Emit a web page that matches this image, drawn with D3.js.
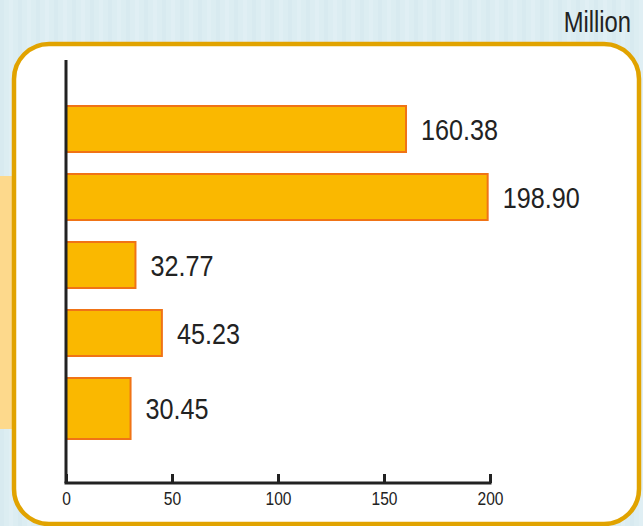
<!DOCTYPE html>
<html>
<head>
<meta charset="utf-8">
<script src="https://cdn.jsdelivr.net/npm/d3@7/dist/d3.min.js"></script>
<style>
  html, body { margin: 0; padding: 0; background: #dcedf2; }
  svg { display: block; }
  text { font-family: "Liberation Sans", Arial, sans-serif; fill: #222; }
</style>
</head>
<body>
<svg id="chart" width="643" height="526"></svg>
<script>
const categories = ["Item 1", "Item 2", "Item 3", "Item 4", "Item 5"];
const values = [160.38, 198.90, 32.77, 45.23, 30.45];
const valueLabels = ["160.38", "198.90", "32.77", "45.23", "30.45"];
const tickValues = [0, 50, 100, 150, 200];
const unitLabel = "Million";

const W = 643, H = 526;
const NARROW = 0.82;
const svg = d3.select("#chart");

// background
svg.append("rect").attr("x", 0).attr("y", 0).attr("width", W).attr("height", H).attr("fill", "#dcedf2");
const tex = svg.append("g").attr("opacity", 0.25);
d3.range(0, W, 9).forEach((x, i) => {
  tex.append("rect").attr("x", x).attr("y", 0).attr("width", 4).attr("height", H)
    .attr("fill", i % 2 ? "#eef7fa" : "#cfe4ec");
});
// left pale yellow strip
svg.append("rect").attr("x", 0).attr("y", 176).attr("width", 14).attr("height", 253).attr("fill", "#fdd98c");

// rounded panel
svg.append("rect")
  .attr("x", 14).attr("y", 44).attr("width", 625).attr("height", 480)
  .attr("rx", 35).attr("ry", 35)
  .attr("fill", "#ffffff").attr("stroke", "#e1a300").attr("stroke-width", 4.5);

// unit label
svg.append("text").attr("transform", `translate(631,32) scale(${NARROW},1)`)
  .attr("text-anchor", "end").attr("font-size", 29).text(unitLabel);

const x0 = 66, axisY = 483;
const x = d3.scaleLinear().domain([0, 200]).range([x0, 490]);
const y = d3.scaleBand().domain(categories).range([95, 435])
  .paddingInner(22 / 68).paddingOuter(11 / 68);

// bars
const bars = svg.append("g");
categories.forEach((c, i) => {
  const extra = i === categories.length - 1 ? 15 : 0;
  bars.append("rect")
    .attr("x", x(0)).attr("y", y(c))
    .attr("width", x(values[i]) - x(0))
    .attr("height", y.bandwidth() + extra)
    .attr("fill", "#fab800").attr("stroke", "#f07316").attr("stroke-width", 2);
  svg.append("text")
    .attr("transform", `translate(${x(values[i]) + 15},${y(c) + (y.bandwidth() + extra) / 2}) scale(0.84,1)`)
    .attr("dy", "0.36em")
    .attr("font-size", 30)
    .text(valueLabels[i]);
});

// vertical axis line
svg.append("line").attr("x1", x0).attr("x2", x0).attr("y1", 60).attr("y2", axisY)
  .attr("stroke", "#222").attr("stroke-width", 3);

// x axis
const xAxis = d3.axisBottom(x).tickValues(tickValues).tickSize(-9).tickPadding(7).tickFormat(d3.format("d"));
const gx = svg.append("g").attr("transform", `translate(0,${axisY})`).call(xAxis);
gx.select(".domain").attr("d", `M${x0 - 1.5},0H${x(200) + 1.5}`).attr("stroke", "#222").attr("stroke-width", 3);
gx.selectAll(".tick line").attr("stroke", "#222").attr("stroke-width", 3);
gx.selectAll(".tick text").attr("font-size", 19)
  .attr("font-family", "'Liberation Sans', Arial, sans-serif").attr("fill", "#222")
  .attr("y", 9).attr("transform", `scale(${NARROW},1)`);
</script>
</body>
</html>
